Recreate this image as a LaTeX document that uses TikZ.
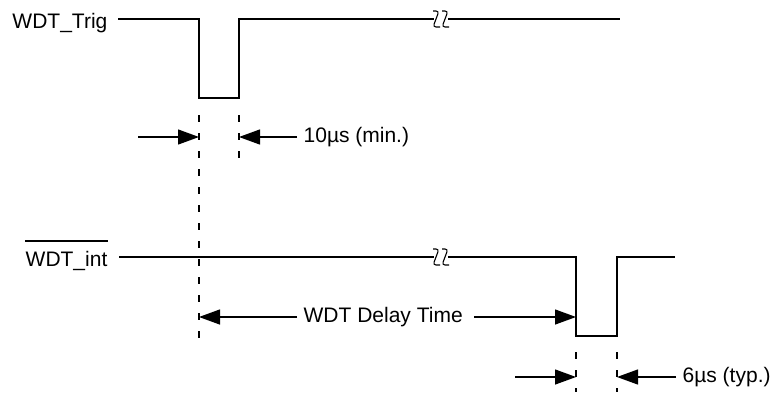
\documentclass[tikz,border=0pt]{standalone}
\usepackage{fontspec}
\setmainfont{Liberation Sans}
\usetikzlibrary{arrows.meta}

% break mark on a long signal line
\newcommand{\brk}[2]{%
  \draw[line width=0.55pt,rounded corners=1.5pt] (#1,#2-8) -- (#1+6,#2-8) -- (#1,#2+8) -- (#1+7,#2+8);
  \draw[line width=0.55pt,rounded corners=1.5pt] (#1+9,#2-8) -- (#1+15,#2-8) -- (#1+9,#2+8) -- (#1+16,#2+8);}

\begin{document}
\begin{tikzpicture}[x=0.5pt,y=-0.5pt,line width=0.65pt,
  arrow/.style = {-{Triangle[length=10.5pt,width=7.5pt]}},
  guide/.style = {dash pattern=on 3.5pt off 5.5pt},
  every node/.style = {font=\fontsize{10.5}{12}\selectfont, inner sep=0pt}]
  \useasboundingbox (0,0) rectangle (771,392);

  % WDT_Trig
  \node [anchor=base east] (trig) at (108,28) {WDT\_Trig};
  \draw (118,19) -- (199,19) -- (199,98) -- (239,98) -- (239,19) -- (434,19);
  \draw (448,19) -- (620,19);
  \brk{433}{19}

  \draw[guide] (199,115) -- (199,346);
  \draw[guide] (239,115) -- (239,160);
  \coordinate (pl) at (199,137);
  \coordinate (pr) at (239,137);
  \draw[arrow] (138,137) -- (pl);
  \draw[arrow] (297,137) -- (pr);
  \node [anchor=west] (tmin) at (303,137) {10µs (min.)};

  % WDT_int
  \node [anchor=base east] (int) at (108,266) {WDT\_int};
  \draw ([yshift=4.5pt]int.north west) -- ([yshift=4.5pt]int.north east);
  \draw (119,257) -- (434,257);
  \draw (448,257) -- (576,257) -- (576,336) -- (617,336) -- (617,257) -- (675,257);
  \brk{433}{257}

  \node [anchor=west] (delay) at (303,317) {WDT Delay Time};
  \coordinate (dl) at (199,317);
  \coordinate (dr) at (576,317);
  \draw[arrow] ([xshift=-3pt]delay.west) -- (dl);
  \draw[arrow] ([xshift=5.5pt]delay.east) -- (dr);

  \draw[guide] (576,352) -- (576,392);
  \draw[guide] (617,352) -- (617,392);
  \coordinate (ql) at (576,377);
  \coordinate (qr) at (617,377);
  \draw[arrow] (515,377) -- (ql);
  \draw[arrow] (676,377) -- (qr);
  \node [anchor=west] (ttyp) at (682,377) {6µs (typ.)};
\end{tikzpicture}
\end{document}
